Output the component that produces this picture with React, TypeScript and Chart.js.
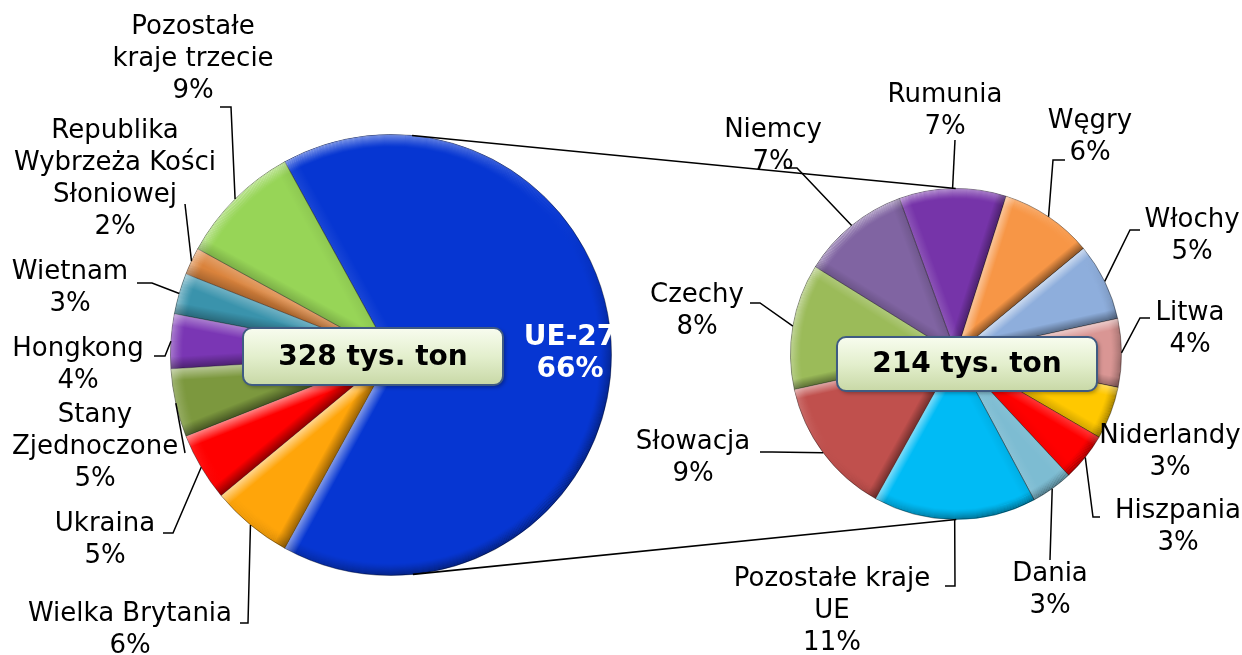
import React, { useEffect, useRef } from "react";
import { Chart, registerables } from "chart.js";
Chart.register(...registerables);

const W = 1242;
const H = 655;

// ---------------- data ----------------
const outerCategories = [
  "UE-27",
  "Wielka Brytania",
  "Ukraina",
  "Stany\nZjednoczone",
  "Hongkong",
  "Wietnam",
  "Republika\nWybrzeża Kości\nSłoniowej",
  "Pozostałe\nkraje trzecie",
];
const outerValues = [66, 6, 5, 5, 4, 3, 2, 9];
const outerTotal = 328;

const euCategories = [
  "Rumunia",
  "Węgry",
  "Włochy",
  "Litwa",
  "Niderlandy",
  "Hiszpania",
  "Dania",
  "Pozostałe kraje\nUE",
  "Słowacja",
  "Czechy",
  "Niemcy",
];
const euValues = [6.9, 6.0, 5.0, 4.4, 3.4, 3.1, 2.7, 10.5, 8.9, 8.1, 7.0];
const euTotal = 214;
const totalUnit = "tys. ton";

// ---------------- styles ----------------
const outerColors = ["#0636D2", "#FFA50A", "#FF0000", "#7C983E", "#7A36B4", "#3A93AC", "#DA833C", "#97D557"];
const euColors = ["#7634A9", "#F79646", "#8EAEDC", "#D99694", "#FFC800", "#FF0000", "#7DBCD2", "#00BBF5", "#C0504D", "#9BBB59", "#8064A2"];

const FONT = '"DejaVu Sans", Verdana, sans-serif';
const LABEL_FONT = `26px ${FONT}`;
const BOLD_FONT = `bold 28px ${FONT}`;
const BOX_FONT = `bold 28px ${FONT}`;
const LINE_H = 32;

type LabelPos = { dx: number; dy: number; ax?: number; ay?: number; tick?: number; inside?: boolean; noLeader?: boolean };

// label block centre relative to the pie centre; leader attach point relative to label centre
const outerLabelPos: LabelPos[] = [
  { dx: 179, dy: -1, inside: true },
  { dx: -261, dy: 275, ax: 110, ay: -7, tick: 8 },
  { dx: -286, dy: 185, ax: 58, ay: -7, tick: 10 },
  { dx: -296, dy: 92, ax: 90, ay: 6, tick: 0 },
  { dx: -313, dy: 10, ax: 76, ay: -9, tick: 11 },
  { dx: -321, dy: -67, ax: 67, ay: -5, tick: 15 },
  { dx: -276, dy: -176, ax: 70, ay: 25, tick: 0 },
  { dx: -198, dy: -296, ax: 27, ay: 48, tick: 11 },
];
const euLabelPos: LabelPos[] = [
  { dx: -11, dy: -243, ax: 10, ay: 29, tick: 0 },
  { dx: 134, dy: -217, ax: -25, ay: 23, tick: -12 },
  { dx: 236, dy: -118, ax: -52, ay: -6, tick: -10 },
  { dx: 234, dy: -25, ax: -40, ay: -11, tick: -10 },
  { dx: 214, dy: 98, noLeader: true },
  { dx: 222, dy: 173, ax: -78, ay: -10, tick: -7 },
  { dx: 94, dy: 236, ax: 0, ay: -30, tick: 0 },
  { dx: -124, dy: 257, ax: 113, ay: -25, tick: 10 },
  { dx: -263, dy: 104, ax: 67, ay: -6, tick: 12 },
  { dx: -259, dy: -43, ax: 53, ay: -8, tick: 10 },
  { dx: -183, dy: -208, ax: 11, ay: 22, tick: 13 },
];

const LIGHT = { x: -0.6, y: -0.8 };
const shadeColor = (s: number, k = 1) =>
  s > 0 ? `rgba(255,255,255,${(0.55 * s * k).toFixed(3)})` : `rgba(0,0,0,${(-0.45 * s * k).toFixed(3)})`;

function roundRect(ctx: CanvasRenderingContext2D, x: number, y: number, w: number, h: number, r: number) {
  ctx.beginPath();
  ctx.moveTo(x + r, y);
  ctx.arcTo(x + w, y, x + w, y + h, r);
  ctx.arcTo(x + w, y + h, x, y + h, r);
  ctx.arcTo(x, y + h, x, y, r);
  ctx.arcTo(x, y, x + w, y, r);
  ctx.closePath();
}

type DecorCfg = {
  categories: string[];
  values: number[];
  pos: LabelPos[];
  total: number;
  boxOffset: [number, number];
  boxSize: [number, number];
  bevel: number;
  other?: () => Chart | null;
};

function makeDecor(cfg: DecorCfg) {
  return {
    id: "pieDecor",
    afterDatasetsDraw(chart: any) {
      const ctx: CanvasRenderingContext2D = chart.ctx;
      const arcs = chart.getDatasetMeta(0).data as any[];
      arcs.forEach((arc) => {
        const { x, y, startAngle, endAngle, outerRadius: r } = arc.getProps(["x", "y", "startAngle", "endAngle", "outerRadius"], true);
        const w = cfg.bevel;
        ctx.save();
        ctx.beginPath();
        ctx.moveTo(x, y);
        ctx.arc(x, y, r, startAngle, endAngle);
        ctx.closePath();
        ctx.clip();
        // rim band: conic colour by facing direction, fading inward (one ring per pixel)
        const cg = (ctx as any).createConicGradient(0, x, y);
        const N = 36;
        for (let i = 0; i <= N; i++) {
          const a = (i / N) * Math.PI * 2;
          cg.addColorStop(i / N, shadeColor(Math.cos(a) * LIGHT.x + Math.sin(a) * LIGHT.y));
        }
        const rings = Math.round(w);
        for (let i = 0; i < rings; i++) {
          ctx.globalAlpha = Math.pow(1 - i / rings, 1.3);
          ctx.strokeStyle = cg;
          ctx.lineWidth = 1;
          ctx.beginPath();
          ctx.arc(x, y, r - i - 0.5, startAngle - 0.02, endAngle + 0.02);
          ctx.stroke();
        }
        ctx.globalAlpha = 1;
        // radial edges
        const edges: [number, number, number][] = [
          [startAngle, Math.sin(startAngle), -Math.cos(startAngle)],
          [endAngle, -Math.sin(endAngle), Math.cos(endAngle)],
        ];
        edges.forEach(([a, nx, ny]) => {
          const s = nx * LIGHT.x + ny * LIGHT.y;
          const ex = x + r * Math.cos(a);
          const ey = y + r * Math.sin(a);
          const ix = -nx * w;
          const iy = -ny * w;
          const lg = ctx.createLinearGradient(x, y, x + ix, y + iy);
          lg.addColorStop(0, shadeColor(s));
          lg.addColorStop(1, shadeColor(s, 0));
          ctx.fillStyle = lg;
          ctx.beginPath();
          ctx.moveTo(x, y);
          ctx.lineTo(ex, ey);
          ctx.lineTo(ex + ix, ey + iy);
          ctx.lineTo(x + ix, y + iy);
          ctx.closePath();
          ctx.fill();
        });
        ctx.restore();
      });
    },
    afterDraw(chart: any) {
      const ctx: CanvasRenderingContext2D = chart.ctx;
      const arcs = chart.getDatasetMeta(0).data as any[];
      const first = arcs[0];
      const cx = first.x;
      const cy = first.y;
      ctx.save();

      // connector lines to the other pie
      if (cfg.other) {
        const o = cfg.other();
        if (o) {
          const oa = o.getDatasetMeta(0).data[0] as any;
          const x1 = oa.x, y1 = oa.y, r1 = oa.outerRadius;
          const x2 = cx, y2 = cy, r2 = first.outerRadius;
          const dxx = x2 - x1, dyy = y2 - y1;
          const d = Math.hypot(dxx, dyy);
          const ux = dxx / d, uy = dyy / d;
          const k = (r1 - r2) / d;
          const h = Math.sqrt(1 - k * k);
          [1, -1].forEach((sgn) => {
            const vx = uy * sgn, vy = -ux * sgn;
            const nx = ux * k + vx * h, ny = uy * k + vy * h;
            ctx.strokeStyle = "#000";
            ctx.lineWidth = 1.6;
            ctx.beginPath();
            ctx.moveTo(x1 + r1 * nx, y1 + r1 * ny);
            ctx.lineTo(x2 + r2 * vx, y2 + r2 * vy);
            ctx.stroke();
          });
        }
      }

      // labels and leader lines
      arcs.forEach((arc, i) => {
        const p = cfg.pos[i];
        const mid = (arc.startAngle + arc.endAngle) / 2;
        const r = arc.outerRadius;
        const px = cx + r * Math.cos(mid);
        const py = cy + r * Math.sin(mid);
        const lx = cx + p.dx;
        const ly = cy + p.dy;
        const lines = [...cfg.categories[i].split("\n"), `${Math.round(cfg.values[i])}%`];
        if (!p.inside && !p.noLeader) {
          const axp = lx + (p.ax || 0);
          const ayp = ly + (p.ay || 0);
          ctx.strokeStyle = "#000";
          ctx.lineWidth = 1.5;
          ctx.beginPath();
          ctx.moveTo(axp, ayp);
          ctx.lineTo(axp + (p.tick || 0), ayp);
          ctx.lineTo(px, py);
          ctx.stroke();
        }
        ctx.font = p.inside ? BOLD_FONT : LABEL_FONT;
        ctx.fillStyle = p.inside ? "#FFFFFF" : "#000000";
        ctx.textAlign = "center";
        ctx.textBaseline = "middle";
        const top = ly - ((lines.length - 1) * LINE_H) / 2;
        lines.forEach((t, j) => ctx.fillText(t, lx, top + j * LINE_H));
      });

      // total box
      const [bw, bh] = cfg.boxSize;
      const bx = cx + cfg.boxOffset[0] - bw / 2;
      const by = cy + cfg.boxOffset[1] - bh / 2;
      ctx.shadowColor = "rgba(0,0,0,0.35)";
      ctx.shadowBlur = 4;
      ctx.shadowOffsetX = 2;
      ctx.shadowOffsetY = 2;
      roundRect(ctx, bx, by, bw, bh, 9);
      const bg = ctx.createLinearGradient(0, by, 0, by + bh);
      bg.addColorStop(0, "#F8FCEF");
      bg.addColorStop(0.5, "#E3EFCD");
      bg.addColorStop(1, "#C8D8A6");
      ctx.fillStyle = bg;
      ctx.fill();
      ctx.shadowColor = "transparent";
      ctx.lineWidth = 2;
      ctx.strokeStyle = "#3F5B82";
      ctx.stroke();
      ctx.font = BOX_FONT;
      ctx.fillStyle = "#000";
      ctx.textAlign = "center";
      ctx.textBaseline = "middle";
      ctx.fillText(`${cfg.total} ${totalUnit}`, bx + bw / 2, by + bh / 2 + 1);
      ctx.restore();
    },
  };
}

export default function App() {
  const leftRef = useRef<HTMLCanvasElement>(null);
  const rightRef = useRef<HTMLCanvasElement>(null);

  useEffect(() => {
    const sumOuter = outerValues.reduce((a, b) => a + b, 0);
    const left = new Chart(leftRef.current!, {
      type: "pie",
      data: {
        labels: outerCategories,
        datasets: [{ data: outerValues, backgroundColor: outerColors, borderColor: "rgba(0,0,0,0.4)", borderWidth: 1 }],
      },
      options: {
        responsive: false,
        animation: false,
        events: [],
        rotation: 90 - (outerValues[0] / sumOuter) * 180,
        layout: { padding: { left: 170, right: 630, top: 134, bottom: 79 } },
        plugins: { legend: { display: false }, tooltip: { enabled: false } },
      } as any,
      plugins: [
        makeDecor({
          categories: outerCategories,
          values: outerValues,
          pos: outerLabelPos,
          total: outerTotal,
          boxOffset: [-18, 1.5],
          boxSize: [260, 57],
          bevel: 12,
        }),
      ],
    });
    const right = new Chart(rightRef.current!, {
      type: "pie",
      data: {
        labels: euCategories,
        datasets: [{ data: euValues, backgroundColor: euColors, borderColor: "rgba(0,0,0,0.4)", borderWidth: 1 }],
      },
      options: {
        responsive: false,
        animation: false,
        events: [],
        rotation: -20,
        layout: { padding: { left: 790, right: 120, top: 188, bottom: 135 } },
        plugins: { legend: { display: false }, tooltip: { enabled: false } },
      } as any,
      plugins: [
        makeDecor({
          categories: euCategories,
          values: euValues,
          pos: euLabelPos,
          total: euTotal,
          boxOffset: [11, 10],
          boxSize: [260, 54],
          bevel: 10,
          other: () => left,
        }),
      ],
    });
    return () => {
      right.destroy();
      left.destroy();
    };
  }, []);

  return (
    <div style={{ position: "fixed", left: 0, top: 0, width: W, height: H, background: "#fff", overflow: "hidden" }}>
      <canvas ref={leftRef} width={W} height={H} style={{ position: "absolute", left: 0, top: 0 }} />
      <canvas ref={rightRef} width={W} height={H} style={{ position: "absolute", left: 0, top: 0 }} />
    </div>
  );
}
